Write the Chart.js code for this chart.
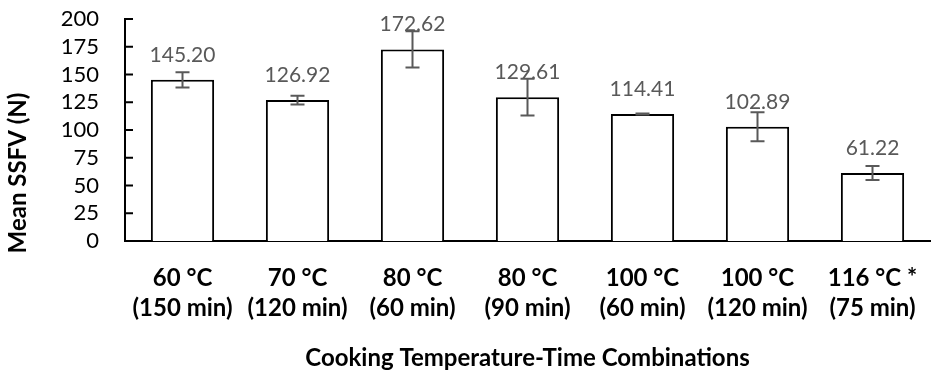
<!DOCTYPE html>
<html>
<head>
<meta charset="utf-8">
<script src="https://cdn.jsdelivr.net/npm/chart.js@4.4.1/dist/chart.umd.min.js"></script>
<style>
  html, body { margin: 0; padding: 0; background: #fff; }
  #wrap { width: 931px; height: 383px; }
</style>
</head>
<body>
<div id="wrap"><canvas id="myChart" width="931" height="383"></canvas></div>
<script>
// categories, means and error (+/-)
var categories = [
  ['60 °C', '(150 min)'],
  ['70 °C', '(120 min)'],
  ['80 °C', '(60 min)'],
  ['80 °C', '(90 min)'],
  ['100 °C', '(60 min)'],
  ['100 °C', '(120 min)'],
  ['116 °C *', '(75 min)']
];
var meanSSFV = [145.20, 126.92, 172.62, 129.61, 114.41, 102.89, 61.22];
var errSSFV = [6.8, 4.0, 16.3, 16.6, 0.5, 13.0, 6.3];
var yTicks = [0, 25, 50, 75, 100, 125, 150, 175, 200];
var yTitle = 'Mean SSFV (N)';
var xTitle = 'Cooking Temperature-Time Combinations';

var FONT = 'Lato, "Open Sans", sans-serif';

// error bars + value labels, positioned from the chart's own scales
var barExtras = {
  id: 'barExtras',
  afterDatasetsDraw: function(chart) {
    var ctx = chart.ctx;
    var y = chart.scales.y;
    var meta = chart.getDatasetMeta(0);
    ctx.save();
    meta.data.forEach(function(bar, i) {
      var x = bar.x;
      var top = y.getPixelForValue(meanSSFV[i] + errSSFV[i]);
      var bot = y.getPixelForValue(meanSSFV[i] - errSSFV[i]);
      ctx.strokeStyle = '#595959';
      ctx.lineWidth = 2;
      ctx.beginPath();
      ctx.moveTo(x, top); ctx.lineTo(x, bot);
      ctx.moveTo(x - 7, top); ctx.lineTo(x + 7, top);
      ctx.moveTo(x - 7, bot); ctx.lineTo(x + 7, bot);
      ctx.stroke();

      ctx.fillStyle = '#595959';
      ctx.font = '21px ' + FONT;
      ctx.textAlign = 'center';
      ctx.textBaseline = 'alphabetic';
      ctx.fillText(meanSSFV[i].toFixed(2), x, y.getPixelForValue(meanSSFV[i]) - 18);
    });
    ctx.restore();
  },
  afterDraw: function(chart) {
    var ctx = chart.ctx;
    var y = chart.scales.y;
    var left = chart.chartArea.left;
    ctx.save();
    // inside tick marks on the value axis
    ctx.strokeStyle = '#000';
    ctx.lineWidth = 2;
    ctx.beginPath();
    yTicks.forEach(function(v) {
      if (v === 0) return;
      var py = y.getPixelForValue(v);
      ctx.moveTo(left, py); ctx.lineTo(left + 8, py);
    });
    ctx.stroke();
    // y title sits lower than the plot centre in the original
    ctx.translate(18, 173);
    ctx.rotate(-Math.PI / 2);
    ctx.fillStyle = '#000';
    ctx.font = 'bold 24px ' + FONT;
    ctx.textAlign = 'center';
    ctx.textBaseline = 'middle';
    ctx.fillText(yTitle, 0, 0);
    ctx.restore();
  }
};

var ctx = document.getElementById('myChart').getContext('2d');
var myChart = new Chart(ctx, {
  type: 'bar',
  data: {
    labels: categories,
    datasets: [{
      data: meanSSFV,
      backgroundColor: '#ffffff',
      borderColor: '#000000',
      borderWidth: 2,
      borderSkipped: 'bottom',
      barPercentage: 0.55,
      categoryPercentage: 1
    }]
  },
  options: {
    responsive: false,
    animation: false,
    layout: { padding: { top: 19, right: 1, left: 0, bottom: 0 } },
    plugins: {
      legend: { display: false },
      tooltip: { enabled: false }
    },
    scales: {
      x: {
        grid: { display: false },
        border: { display: true, color: '#000', width: 2 },
        ticks: {
          color: '#000',
          font: { family: FONT, size: 24, weight: 'bold', lineHeight: 1.25 },
          padding: 14,
          maxRotation: 0,
          autoSkip: false
        },
        title: {
          display: true,
          text: xTitle,
          color: '#000',
          font: { family: FONT, size: 24, weight: 'bold' },
          padding: { top: 0, bottom: 10 }
        },
        afterFit: function(scale) {
          scale.height = 142;
          scale.paddingLeft = 0;
          scale.paddingRight = 0;
        }
      },
      y: {
        min: 0,
        max: 200,
        afterBuildTicks: function(scale) {
          scale.ticks = yTicks.map(function(v) { return { value: v }; });
        },
        grid: { display: false, drawTicks: false },
        border: { display: true, color: '#000', width: 2 },
        ticks: {
          color: '#000',
          font: { family: FONT, size: 22 },
          padding: 26,
          autoSkip: false
        },
        afterFit: function(scale) {
          scale.width = 125;
          scale.paddingTop = 0;
          scale.paddingBottom = 0;
        }
      }
    }
  },
  plugins: [barExtras]
});

myChart.update();
</script>
</body>
</html>
